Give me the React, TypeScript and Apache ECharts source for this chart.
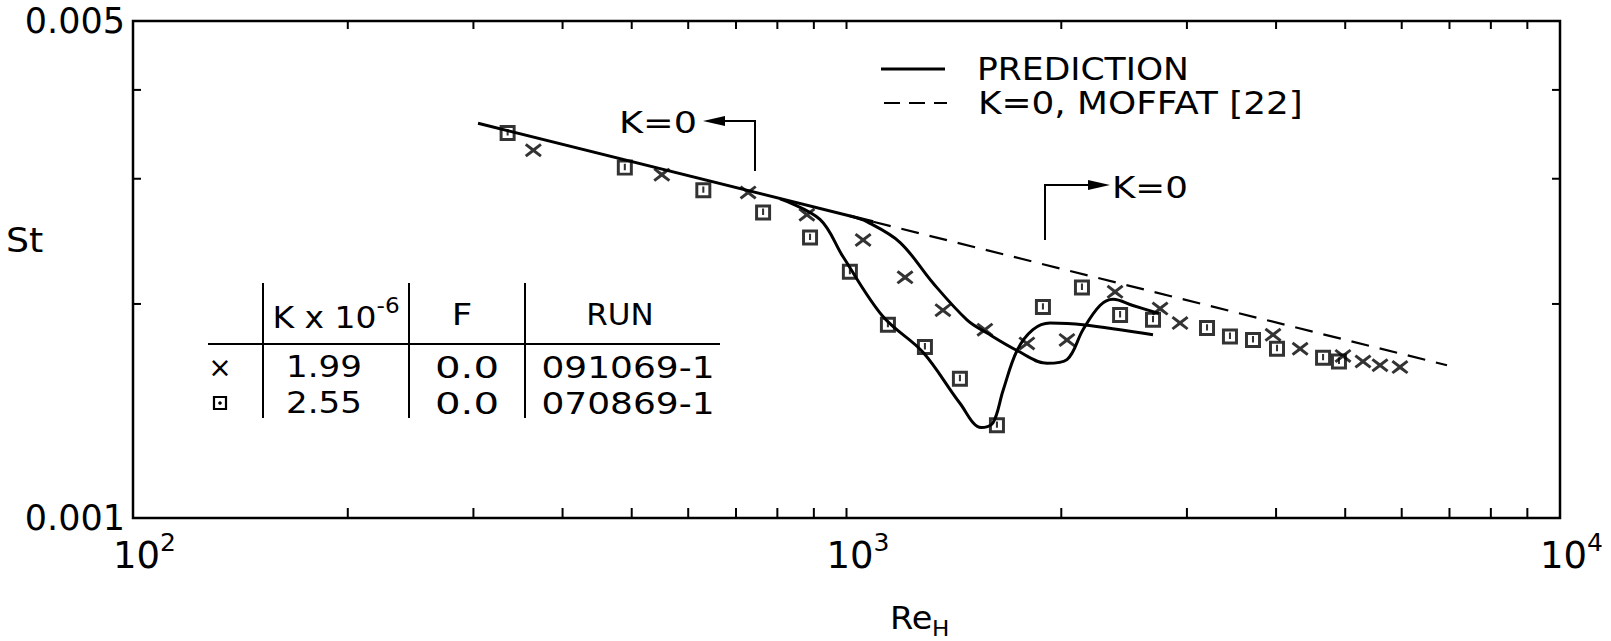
import React, { useEffect, useRef } from "react";
import * as echarts from "echarts";

// Axis ranges (log–log)
const RE_MIN = 100;
const RE_MAX = 10000;
const ST_MIN = 0.001;
const ST_MAX = 0.005;

// Decade labels on the Re_H axis
const reDecades = [100, 1000, 10000];
const reDecadeExponents = ["2", "3", "4"];

// Inward tick marks on all four sides
const reTicks = [200, 300, 400, 500, 600, 700, 800, 900, 1000, 2000, 3000, 4000, 5000, 6000, 7000, 8000, 9000];
const stTicks = [0.002, 0.003, 0.004];

// K = 0 line: solid up to where the accelerated runs leave it, then Moffat [22] dashed
const kZeroSolid: [number, number][] = [[304.5, 0.00359], [1090, 0.00261]];
const moffatKZero: [number, number][] = [[1090, 0.00261], [6944, 0.00164]];

// Predicted St for K = 1.99e-6 (run 091069-1)
const predictionK199: [number, number][] = [
  [1011, 0.00266], [1068, 0.00261], [1189, 0.00244], [1322, 0.00214], [1475, 0.0019],
  [1574, 0.00182], [1734, 0.00172], [1910, 0.00165], [2037, 0.00167], [2145, 0.00184],
  [2266, 0.00199], [2364, 0.00203], [2520, 0.00199], [2740, 0.00194],
];

// Predicted St for K = 2.55e-6 (run 070869-1)
const predictionK255: [number, number][] = [
  [807, 0.00281], [918, 0.00263], [989, 0.00233], [1125, 0.00192], [1280, 0.00171],
  [1442, 0.00145], [1545, 0.00134], [1604, 0.00136], [1657, 0.00151], [1734, 0.00172],
  [1825, 0.00184], [1929, 0.00188], [2145, 0.00187], [2689, 0.00181],
];

// Measured Stanton numbers, run 091069-1 (crosses)
const run091069: [number, number][] = [
  [364, 0.00329], [551, 0.00304], [728, 0.00287], [880, 0.00267], [1055, 0.00246],
  [1208, 0.00218], [1365, 0.00196], [1563, 0.00184], [1790, 0.00176], [2037, 0.00178],
  [2379, 0.00208], [2751, 0.00197], [2934, 0.00188], [3961, 0.00181], [4323, 0.00173],
  [4964, 0.00169], [5295, 0.00166], [5594, 0.00164], [5966, 0.00163],
];

// Measured Stanton numbers, run 070869-1 (squares)
const run070869: [number, number][] = [
  [335, 0.00348], [489, 0.00311], [630, 0.00289], [764, 0.00269], [889, 0.00248],
  [1011, 0.00222], [1143, 0.00187], [1288, 0.00174], [1442, 0.00157], [1625, 0.00135],
  [1885, 0.00198], [2138, 0.00211], [2418, 0.00193], [2689, 0.0019], [3201, 0.00185],
  [3447, 0.0018], [3713, 0.00178], [4012, 0.00173], [4655, 0.00168], [4900, 0.00166],
];

// Run table
const tableKs = ["1.99", "2.55"];
const tableFs = ["0.0", "0.0"];
const tableRuns = ["091069-1", "070869-1"];

const FONT = '"DejaVu Sans", "Liberation Sans", sans-serif';
const INK = "#000";

// bold hand-lettered cross and open square with a stroke inside
const CROSS_SYMBOL =
  "path://M1.5,0L7,4.6L12.5,0L14,2L9,6.5L14,11L12.5,13L7,8.4L1.5,13L0,11L5,6.5L0,2Z";
const SQUARE_SYMBOL =
  "path://M0,0L14,0L14,14L0,14Z M2.6,2.6L2.6,11.4L11.4,11.4L11.4,2.6Z M6.1,3.6L7.9,3.6L7.9,9.2L6.1,9.2Z";

const textEl = (
  text: string,
  x: number,
  y: number,
  align: "left" | "center" | "right",
  size = 30,
  scaleX = 1.12
) => ({
  type: "text",
  x,
  y,
  scaleX,
  silent: true,
  style: {
    text,
    fill: INK,
    fontFamily: FONT,
    fontSize: size,
    align,
    textAlign: align,
    verticalAlign: "middle",
    textVerticalAlign: "middle",
  },
});

const lineEl = (x1: number, y1: number, x2: number, y2: number, w = 2, dash?: number[]) => ({
  type: "line",
  silent: true,
  shape: { x1, y1, x2, y2 },
  style: { stroke: INK, lineWidth: w, lineDash: dash },
});

export default function App() {
  const ref = useRef<HTMLDivElement>(null);

  useEffect(() => {
    if (!ref.current) return;
    const chart = echarts.init(ref.current, null, { renderer: "svg" });

    const rowY = [367, 403];
    const tableGraphics: any[] = [
      lineEl(208, 344, 720, 344, 2),
      lineEl(263, 283, 263, 418, 2),
      lineEl(409, 283, 409, 418, 2),
      lineEl(525, 283, 525, 418, 2),
      {
        type: "text",
        x: 336,
        y: 314,
        scaleX: 1.1,
        silent: true,
        style: {
          text: "{b|K x 10}{s|-6}",
          fill: INK,
          align: "center",
          textAlign: "center",
          verticalAlign: "middle",
          textVerticalAlign: "middle",
          rich: {
            b: { fontFamily: FONT, fontSize: 30, lineHeight: 38, verticalAlign: "bottom", fill: INK, color: INK },
            s: { fontFamily: FONT, fontSize: 21, lineHeight: 18, verticalAlign: "top", fill: INK, color: INK },
          },
        },
      },
      textEl("F", 462, 314, "center", 31, 1.15),
      textEl("RUN", 620, 314, "center", 31, 1.0),
      textEl("×", 220, rowY[0], "center", 28, 1),
      {
        type: "rect",
        silent: true,
        shape: { x: 214, y: rowY[1] - 6, width: 12, height: 12 },
        style: { stroke: INK, lineWidth: 2.2, fill: "none" },
      },
      { type: "circle", silent: true, shape: { cx: 220, cy: rowY[1], r: 1.8 }, style: { fill: INK } },
    ];
    tableKs.forEach((k, i) => {
      tableGraphics.push(textEl(k, 324, rowY[i], "center", 31, 1.1));
      tableGraphics.push(textEl(tableFs[i], 467, rowY[i], "center", 31, 1.3));
      tableGraphics.push(textEl(tableRuns[i], 628, rowY[i], "center", 31, 1.16));
    });

    const option: any = {
      animation: false,
      backgroundColor: "#fff",
      grid: {
        left: 133,
        right: 51,
        top: 21,
        bottom: 123,
        containLabel: false,
        outerBoundsMode: "none",
        show: true,
        borderColor: INK,
        borderWidth: 2.5,
        backgroundColor: "transparent",
      },
      xAxis: {
        type: "log",
        logBase: 10,
        min: RE_MIN,
        max: RE_MAX,
        axisLine: { show: false },
        axisTick: { show: false },
        splitLine: { show: false },
        axisLabel: {
          show: true,
          showMinLabel: true,
          showMaxLabel: true,
          margin: 12,
          padding: [0, 0, 0, 23],
          formatter: (v: number) => {
            const i = reDecades.findIndex((d) => Math.abs(d - v) / d < 1e-6);
            return i < 0 ? "" : `{b|10}{s|${reDecadeExponents[i]}}`;
          },
          rich: {
            b: { fontFamily: FONT, fontSize: 37, lineHeight: 44, verticalAlign: "bottom", color: INK },
            s: { fontFamily: FONT, fontSize: 25, lineHeight: 20, verticalAlign: "top", color: INK },
          },
        },
      },
      yAxis: {
        type: "log",
        logBase: 10,
        min: ST_MIN,
        max: ST_MAX,
        axisLine: { show: false },
        axisTick: { show: false },
        splitLine: { show: false },
        axisLabel: {
          show: true,
          showMinLabel: true,
          showMaxLabel: true,
          margin: 8,
          fontFamily: FONT,
          fontSize: 35,
          color: INK,
          formatter: (v: number) => v.toFixed(3),
        },
      },
      series: [
        {
          type: "custom",
          silent: true,
          clip: false,
          z: 5,
          data: reTicks.map((v) => [v, ST_MIN]),
          encode: { x: 0, y: 1 },
          renderItem: (_p: any, api: any) => {
            const v = api.value(0);
            const b = api.coord([v, ST_MIN]);
            const t = api.coord([v, ST_MAX]);
            return {
              type: "group",
              children: [
                { type: "line", shape: { x1: b[0], y1: b[1], x2: b[0], y2: b[1] - 10 }, style: { stroke: INK, lineWidth: 2 } },
                { type: "line", shape: { x1: t[0], y1: t[1], x2: t[0], y2: t[1] + 8 }, style: { stroke: INK, lineWidth: 2 } },
              ],
            };
          },
        },
        {
          type: "custom",
          silent: true,
          clip: false,
          z: 5,
          data: stTicks.map((v) => [RE_MIN, v]),
          encode: { x: 0, y: 1 },
          renderItem: (_p: any, api: any) => {
            const v = api.value(1);
            const l = api.coord([RE_MIN, v]);
            const r = api.coord([RE_MAX, v]);
            return {
              type: "group",
              children: [
                { type: "line", shape: { x1: l[0], y1: l[1], x2: l[0] + 8, y2: l[1] }, style: { stroke: INK, lineWidth: 2 } },
                { type: "line", shape: { x1: r[0], y1: r[1], x2: r[0] - 8, y2: r[1] }, style: { stroke: INK, lineWidth: 2 } },
              ],
            };
          },
        },
        {
          name: "PREDICTION",
          type: "line",
          data: kZeroSolid,
          symbol: "none",
          silent: true,
          lineStyle: { color: INK, width: 3 },
        },
        {
          name: "K=0, MOFFAT [22]",
          type: "line",
          data: moffatKZero,
          symbol: "none",
          silent: true,
          lineStyle: { color: INK, width: 2.2, type: [18, 11] },
        },
        {
          name: "PREDICTION K=1.99",
          type: "line",
          data: predictionK199,
          symbol: "none",
          smooth: 0.35,
          silent: true,
          lineStyle: { color: INK, width: 3 },
        },
        {
          name: "PREDICTION K=2.55",
          type: "line",
          data: predictionK255,
          symbol: "none",
          smooth: 0.35,
          silent: true,
          lineStyle: { color: INK, width: 3 },
        },
        {
          name: "091069-1",
          type: "scatter",
          data: run091069,
          symbol: CROSS_SYMBOL,
          symbolSize: [17, 14],
          silent: true,
          itemStyle: { color: INK },
          z: 4,
        },
        {
          name: "070869-1",
          type: "scatter",
          data: run070869,
          symbol: SQUARE_SYMBOL,
          symbolSize: [16, 16],
          silent: true,
          itemStyle: { color: INK },
          z: 4,
        },
      ],
      graphic: [
        // legend
        lineEl(881, 69, 945, 69, 3),
        textEl("PREDICTION", 977, 69, "left", 32, 1.08),
        lineEl(884, 103, 947, 103, 2.2, [16, 9]),
        textEl("K=0, MOFFAT [22]", 978, 103, "left", 32, 1.12),
        // K = 0 pointer on the upstream side
        textEl("K=0", 697, 122, "right", 31, 1.18),
        { type: "polyline", silent: true, shape: { points: [[755, 171], [755, 121], [722, 121]] }, style: { stroke: INK, lineWidth: 2, fill: "none" } },
        { type: "polygon", silent: true, shape: { points: [[703, 121], [725, 116], [725, 126]] }, style: { fill: INK } },
        // K = 0 pointer on the downstream side
        { type: "polyline", silent: true, shape: { points: [[1045, 240], [1045, 185], [1090, 185]] }, style: { stroke: INK, lineWidth: 2, fill: "none" } },
        { type: "polygon", silent: true, shape: { points: [[1110, 185], [1088, 180], [1088, 190]] }, style: { fill: INK } },
        textEl("K=0", 1112, 187, "left", 31, 1.15),
        // axis titles
        textEl("St", 6, 241, "left", 33, 1.1),
        textEl("Re", 890, 618, "left", 32, 1.05),
        textEl("H", 932, 628, "left", 22, 1.05),
        ...tableGraphics,
      ],
    };

    chart.setOption(option);
    return () => chart.dispose();
  }, []);

  return (
    <div
      ref={ref}
      style={{ position: "absolute", left: 0, top: 0, width: 1611, height: 641, background: "#fff" }}
    />
  );
}
